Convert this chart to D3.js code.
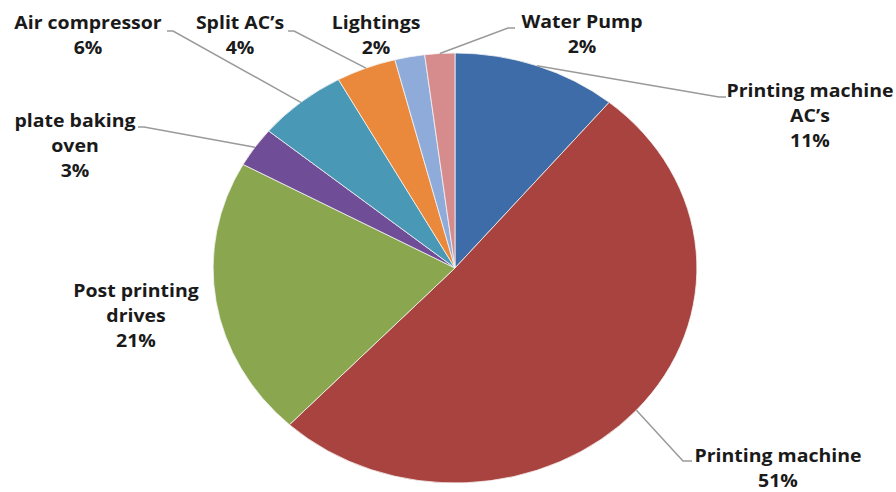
<!DOCTYPE html>
<html><head><meta charset="utf-8">
<script src="https://cdn.jsdelivr.net/npm/d3@7"></script>
<style>html,body{margin:0;padding:0;background:#fff;}</style>
</head><body>
<svg id="chart" width="896" height="492"></svg>
<script>
// ---- data ----
const categories = ["Printing machine AC\u2019s", "Printing machine", "Post printing drives", "plate baking oven", "Air compressor", "Split AC\u2019s", "Lightings", "Water Pump"];
const values = [11, 51, 21, 3, 6, 4, 2, 2];
const colors = ["#3e6ca8", "#a9433f", "#8aa74f", "#6f4e97", "#4898b6", "#ea893b", "#8eabd9", "#d68c8d"];
const labelLines = [["Printing machine", "AC\u2019s"], ["Printing machine"], ["Post printing", "drives"], ["plate baking", "oven"], ["Air compressor"], ["Split AC\u2019s"], ["Lightings"], ["Water Pump"]];

// ---- layout ----
const W = 896, H = 492;
const cx = 455, cy = 268, R = 215, sx = 1.125;
const fontSize = 18.3, textStretch = 1.065, lh = 25;
const labelPos = [ // [center x, first baseline, leader start x, leader start y, elbow dx]
  [810, 97, 726, 97, -7],
  [778, 462, 692, 461, -9],
  [136, 297, null, null, 0],
  [75, 127, 138, 127, 6],
  [88, 29, 167, 31, 6],
  [240, 29, 288, 31, 6],
  [376, 29, null, null, 0],
  [582, 28, 515, 28, -7]
];

const svg = d3.select("#chart");
const pie = d3.pie().value(d => d).sort(null).startAngle(0).endAngle(2 * Math.PI);
const arcs = pie(values);
const arc = d3.arc().innerRadius(0).outerRadius(R);

const g = svg.append("g").attr("transform", `translate(${cx},${cy}) scale(${sx},1)`);
g.selectAll("path").data(arcs).join("path")
  .attr("d", arc)
  .attr("fill", (d, i) => colors[i])
  .attr("stroke", "#f4f4f4")
  .attr("stroke-width", 0.8)
  .attr("vector-effect", "non-scaling-stroke");

// leaders
arcs.forEach((a, i) => {
  const p = labelPos[i];
  if (p[2] == null) return;
  const mid = (a.startAngle + a.endAngle) / 2;
  const ex = cx + sx * R * Math.sin(mid);
  const ey = cy - R * Math.cos(mid);
  svg.append("polyline")
    .attr("points", `${p[2]},${p[3]} ${p[2] + p[4]},${p[3]} ${ex},${ey}`)
    .attr("fill", "none")
    .attr("stroke", "#9a9a9a")
    .attr("stroke-width", 1.5);
});

// labels
arcs.forEach((a, i) => {
  const p = labelPos[i];
  const lines = labelLines[i].concat([values[i] + "%"]);
  const t = svg.append("text")
    .attr("transform", `translate(${p[0]},0) scale(${textStretch},1)`)
    .attr("text-anchor", "middle")
    .attr("font-family", "'Open Sans', sans-serif")
    .attr("font-weight", "bold")
    .attr("font-size", fontSize)
    .attr("fill", "#1a1a1a");
  lines.forEach((s, j) => {
    t.append("tspan").attr("x", 0).attr("y", p[1] + j * lh).text(s);
  });
});
</script>
</body></html>
